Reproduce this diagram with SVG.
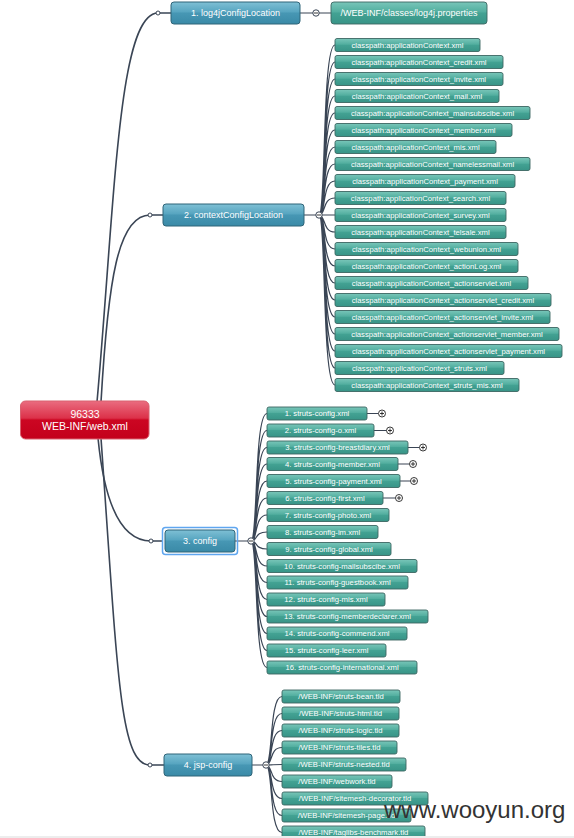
<svg xmlns="http://www.w3.org/2000/svg" width="574" height="838" viewBox="0 0 574 838">
<defs>
<linearGradient id="gRoot" x1="0" y1="0" x2="0" y2="1">
<stop offset="0" stop-color="#ea6d80"/><stop offset="0.45" stop-color="#dc3149"/><stop offset="0.5" stop-color="#cc0622"/><stop offset="1" stop-color="#c3001b"/>
</linearGradient>
<linearGradient id="gL1" x1="0" y1="0" x2="0" y2="1">
<stop offset="0" stop-color="#7fc0d5"/><stop offset="0.45" stop-color="#57a5c0"/><stop offset="0.5" stop-color="#4797b4"/><stop offset="1" stop-color="#3a8aa7"/>
</linearGradient>
<linearGradient id="gCh" x1="0" y1="0" x2="0" y2="1">
<stop offset="0" stop-color="#79c6b9"/><stop offset="0.45" stop-color="#52ae9f"/><stop offset="0.5" stop-color="#43a293"/><stop offset="1" stop-color="#389487"/>
</linearGradient>
</defs>
<style>
.root{fill:url(#gRoot);stroke:#d9606f;stroke-width:1}
.l1{fill:url(#gL1);stroke:#2f6478;stroke-width:1}
.ch{fill:url(#gCh);stroke:#3c6662;stroke-width:0.9}
.t{font-family:"Liberation Sans",Arial,sans-serif;fill:#ffffff;text-anchor:middle}
.t1{font-size:9px}
.t2{font-size:7.7px}
.tr{font-size:10.5px}
.c{fill:none;stroke:#3a4555;stroke-width:1.2}
.cm{fill:none;stroke:#3a4555;stroke-width:1.6}
.hub{fill:#ffffff;stroke:#3a4555;stroke-width:1}
.sym{stroke:#222;stroke-width:0.9}
.plus{fill:#ffffff;stroke:#222;stroke-width:0.9}
</style>
<rect width="574" height="838" fill="#ffffff"/>
<g id="connectors">
<path class="cm" d="M97,402 C115,200 118,13 158,13"/>
<path class="cm" d="M101,402 C108,280 118,215 150,215"/>
<path class="cm" d="M98,438 C104,500 120,541 151,541"/>
<path class="cm" d="M101,438 C118,680 120,765 150,765"/>
<path class="cm" d="M158,13 H171 M150,215 H163 M151,541 H163 M150,765 H164"/>
<path class="c" d="M300,13 H331 M304,215 H319 M235,541 H251 M252,765 H266"/>
<path class="c" d="M319,215 C326,215 322,45 335,45 M319,215 C326,215 322,62 335,62 M319,215 C326,215 322,79 335,79 M319,215 C326,215 322,96 335,96 M319,215 C326,215 322,113 335,113 M319,215 C326,215 322,130 335,130 M319,215 C326,215 322,147 335,147 M319,215 C326,215 322,164 335,164 M319,215 C326,215 322,181 335,181 M319,215 C326,215 322,198 335,198 M319,215 H335 M319,215 C326,215 322,232 335,232 M319,215 C326,215 322,249 335,249 M319,215 C326,215 322,266 335,266 M319,215 C326,215 322,283 335,283 M319,215 C326,215 322,300 335,300 M319,215 C326,215 322,317 335,317 M319,215 C326,215 322,334 335,334 M319,215 C326,215 322,351 335,351 M319,215 C326,215 322,368 335,368 M319,215 C326,215 322,385 335,385"/>
<path class="c" d="M251,541 C258,541 254,413.5 267,413.5 M251,541 C258,541 254,430.5 267,430.5 M251,541 C258,541 254,447.5 267,447.5 M251,541 C258,541 254,464 267,464 M251,541 C258,541 254,481 267,481 M251,541 C258,541 254,498 267,498 M251,541 C258,541 254,515 267,515 M251,541 C258,541 254,532 267,532 M251,541 C258,541 254,549 267,549 M251,541 C258,541 254,566 267,566 M251,541 C258,541 254,582.5 267,582.5 M251,541 C258,541 254,599.5 267,599.5 M251,541 C258,541 254,616.5 267,616.5 M251,541 C258,541 254,633.5 267,633.5 M251,541 C258,541 254,650.5 267,650.5 M251,541 C258,541 254,667.5 267,667.5"/>
<path class="c" d="M266,765 C273,765 269,696.5 282,696.5 M266,765 C273,765 269,713.5 282,713.5 M266,765 C273,765 269,730.5 282,730.5 M266,765 C273,765 269,747.5 282,747.5 M266,765 C273,765 269,764.5 282,764.5 M266,765 C273,765 269,781.5 282,781.5 M266,765 C273,765 269,798.5 282,798.5 M266,765 C273,765 269,815.5 282,815.5 M266,765 C273,765 269,832.5 282,832.5"/>
<path class="c" d="M367,413.5 H378.5 M374,430.5 H386.5 M408,447.5 H419.5 M398,464 H409.5 M400,481 H410.5 M383,498 H395.5"/>
<circle class="hub" cx="158" cy="13" r="2"/>
<circle class="hub" cx="150" cy="215" r="2"/>
<circle class="hub" cx="151" cy="541" r="2"/>
<circle class="hub" cx="150" cy="765" r="2"/>
<circle class="hub" cx="316" cy="13" r="3.2"/><path class="sym" d="M314,13 H318"/>
<circle class="hub" cx="319" cy="215" r="3.2"/><path class="sym" d="M317,215 H321"/>
<circle class="hub" cx="251" cy="541" r="3.2"/><path class="sym" d="M249,541 H253"/>
<circle class="hub" cx="266" cy="765" r="3.2"/><path class="sym" d="M264,765 H268"/>
<circle class="plus" cx="382" cy="413.5" r="3.5"/><path class="sym" d="M380,413.5 H384 M382,411.5 V415.5"/>
<circle class="plus" cx="390" cy="430.5" r="3.5"/><path class="sym" d="M388,430.5 H392 M390,428.5 V432.5"/>
<circle class="plus" cx="423" cy="447.5" r="3.5"/><path class="sym" d="M421,447.5 H425 M423,445.5 V449.5"/>
<circle class="plus" cx="413" cy="464" r="3.5"/><path class="sym" d="M411,464 H415 M413,462 V466"/>
<circle class="plus" cx="414" cy="481" r="3.5"/><path class="sym" d="M412,481 H416 M414,479 V483"/>
<circle class="plus" cx="399" cy="498" r="3.5"/><path class="sym" d="M397,498 H401 M399,496 V500"/>
</g>
<g id="root"><rect class="root" x="20.5" y="401" width="128.5" height="38" rx="5"/>
<text class="t tr" x="85" y="418">96333</text><text class="t tr" x="85" y="429.5">WEB-INF/web.xml</text></g>
<g id="n1"><rect class="l1" x="171" y="2" width="129" height="22" rx="3"/><text class="t t1" x="235.5" y="16.2">1. log4jConfigLocation</text></g>
<g id="n1-1"><rect class="ch" x="331" y="2" width="156" height="22" rx="3"/><text class="t t1" x="409" y="16.2">/WEB-INF/classes/log4j.properties</text></g>
<g id="n2"><rect class="l1" x="163" y="204" width="141" height="22" rx="3"/><text class="t t1" x="233.5" y="218.2">2. contextConfigLocation</text></g>
<g id="n3"><rect x="162.5" y="527.5" width="75" height="27" rx="3" fill="none" stroke="#5fa6f0" stroke-width="1.5"/><rect class="l1" x="165" y="530" width="70" height="22" rx="3"/><text class="t t1" x="200" y="544.2">3. config</text></g>
<g id="n4"><rect class="l1" x="164" y="754" width="88" height="22" rx="3"/><text class="t t1" x="208" y="768.2">4. jsp-config</text></g>
<g id="cp0"><rect class="ch" x="335" y="38.5" width="145" height="13" rx="2"/><text class="t t2" x="407.5" y="47.8">classpath:applicationContext.xml</text></g>
<g id="cp1"><rect class="ch" x="335" y="55.5" width="168" height="13" rx="2"/><text class="t t2" x="419" y="64.8">classpath:applicationContext_credit.xml</text></g>
<g id="cp2"><rect class="ch" x="335" y="72.5" width="168" height="13" rx="2"/><text class="t t2" x="419" y="81.8">classpath:applicationContext_invite.xml</text></g>
<g id="cp3"><rect class="ch" x="335" y="89.5" width="164" height="13" rx="2"/><text class="t t2" x="417" y="98.8">classpath:applicationContext_mail.xml</text></g>
<g id="cp4"><rect class="ch" x="335" y="106.5" width="195" height="13" rx="2"/><text class="t t2" x="432.5" y="115.8">classpath:applicationContext_mainsubscibe.xml</text></g>
<g id="cp5"><rect class="ch" x="335" y="123.5" width="177" height="13" rx="2"/><text class="t t2" x="423.5" y="132.8">classpath:applicationContext_member.xml</text></g>
<g id="cp6"><rect class="ch" x="335" y="140.5" width="161" height="13" rx="2"/><text class="t t2" x="415.5" y="149.8">classpath:applicationContext_mis.xml</text></g>
<g id="cp7"><rect class="ch" x="335" y="157.5" width="195" height="13" rx="2"/><text class="t t2" x="432.5" y="166.8">classpath:applicationContext_namelessmail.xml</text></g>
<g id="cp8"><rect class="ch" x="335" y="174.5" width="180" height="13" rx="2"/><text class="t t2" x="425" y="183.8">classpath:applicationContext_payment.xml</text></g>
<g id="cp9"><rect class="ch" x="335" y="191.5" width="171" height="13" rx="2"/><text class="t t2" x="420.5" y="200.8">classpath:applicationContext_search.xml</text></g>
<g id="cp10"><rect class="ch" x="335" y="208.5" width="171" height="13" rx="2"/><text class="t t2" x="420.5" y="217.8">classpath:applicationContext_survey.xml</text></g>
<g id="cp11"><rect class="ch" x="335" y="225.5" width="171" height="13" rx="2"/><text class="t t2" x="420.5" y="234.8">classpath:applicationContext_telsale.xml</text></g>
<g id="cp12"><rect class="ch" x="335" y="242.5" width="183" height="13" rx="2"/><text class="t t2" x="426.5" y="251.8">classpath:applicationContext_webunion.xml</text></g>
<g id="cp13"><rect class="ch" x="335" y="259.5" width="183" height="13" rx="2"/><text class="t t2" x="426.5" y="268.8">classpath:applicationContext_actionLog.xml</text></g>
<g id="cp14"><rect class="ch" x="335" y="276.5" width="193" height="13" rx="2"/><text class="t t2" x="431.5" y="285.8">classpath:applicationContext_actionservlet.xml</text></g>
<g id="cp15"><rect class="ch" x="335" y="293.5" width="216" height="13" rx="2"/><text class="t t2" x="443" y="302.8">classpath:applicationContext_actionservlet_credit.xml</text></g>
<g id="cp16"><rect class="ch" x="335" y="310.5" width="215" height="13" rx="2"/><text class="t t2" x="442.5" y="319.8">classpath:applicationContext_actionservlet_invite.xml</text></g>
<g id="cp17"><rect class="ch" x="335" y="327.5" width="224" height="13" rx="2"/><text class="t t2" x="447" y="336.8">classpath:applicationContext_actionservlet_member.xml</text></g>
<g id="cp18"><rect class="ch" x="335" y="344.5" width="227" height="13" rx="2"/><text class="t t2" x="448.5" y="353.8">classpath:applicationContext_actionservlet_payment.xml</text></g>
<g id="cp19"><rect class="ch" x="335" y="361.5" width="169" height="13" rx="2"/><text class="t t2" x="419.5" y="370.8">classpath:applicationContext_struts.xml</text></g>
<g id="cp20"><rect class="ch" x="335" y="378.5" width="184" height="13" rx="2"/><text class="t t2" x="427" y="387.8">classpath:applicationContext_struts_mis.xml</text></g>
<g id="s1"><rect class="ch" x="267" y="407" width="100" height="13" rx="2"/><text class="t t2" x="317" y="416.3">1. struts-config.xml</text></g>
<g id="s2"><rect class="ch" x="267" y="424" width="107" height="13" rx="2"/><text class="t t2" x="320.5" y="433.3">2. struts-config-o.xml</text></g>
<g id="s3"><rect class="ch" x="267" y="441" width="141" height="13" rx="2"/><text class="t t2" x="337.5" y="450.3">3. struts-config-breastdiary.xml</text></g>
<g id="s4"><rect class="ch" x="267" y="457.5" width="131" height="13" rx="2"/><text class="t t2" x="332.5" y="466.8">4. struts-config-member.xml</text></g>
<g id="s5"><rect class="ch" x="267" y="474.5" width="133" height="13" rx="2"/><text class="t t2" x="333.5" y="483.8">5. struts-config-payment.xml</text></g>
<g id="s6"><rect class="ch" x="267" y="491.5" width="116" height="13" rx="2"/><text class="t t2" x="325" y="500.8">6. struts-config-first.xml</text></g>
<g id="s7"><rect class="ch" x="267" y="508.5" width="122" height="13" rx="2"/><text class="t t2" x="328" y="517.8">7. struts-config-photo.xml</text></g>
<g id="s8"><rect class="ch" x="267" y="525.5" width="111" height="13" rx="2"/><text class="t t2" x="322.5" y="534.8">8. struts-config-im.xml</text></g>
<g id="s9"><rect class="ch" x="267" y="542.5" width="124" height="13" rx="2"/><text class="t t2" x="329" y="551.8">9. struts-config-global.xml</text></g>
<g id="s10"><rect class="ch" x="267" y="559.5" width="150" height="13" rx="2"/><text class="t t2" x="342" y="568.8">10. struts-config-mailsubscibe.xml</text></g>
<g id="s11"><rect class="ch" x="267" y="576" width="141" height="13" rx="2"/><text class="t t2" x="337.5" y="585.3">11. struts-config-guestbook.xml</text></g>
<g id="s12"><rect class="ch" x="267" y="593" width="118" height="13" rx="2"/><text class="t t2" x="326" y="602.3">12. struts-config-mis.xml</text></g>
<g id="s13"><rect class="ch" x="267" y="610" width="161" height="13" rx="2"/><text class="t t2" x="347.5" y="619.3">13. struts-config-memberdeclarer.xml</text></g>
<g id="s14"><rect class="ch" x="267" y="627" width="140" height="13" rx="2"/><text class="t t2" x="337" y="636.3">14. struts-config-commend.xml</text></g>
<g id="s15"><rect class="ch" x="267" y="644" width="119" height="13" rx="2"/><text class="t t2" x="326.5" y="653.3">15. struts-config-leer.xml</text></g>
<g id="s16"><rect class="ch" x="267" y="661" width="150" height="13" rx="2"/><text class="t t2" x="342" y="670.3">16. struts-config-international.xml</text></g>
<g id="j1"><rect class="ch" x="282" y="690" width="118" height="13" rx="2"/><text class="t t2" x="341" y="699.3">/WEB-INF/struts-bean.tld</text></g>
<g id="j2"><rect class="ch" x="282" y="707" width="117" height="13" rx="2"/><text class="t t2" x="340.5" y="716.3">/WEB-INF/struts-html.tld</text></g>
<g id="j3"><rect class="ch" x="282" y="724" width="117" height="13" rx="2"/><text class="t t2" x="340.5" y="733.3">/WEB-INF/struts-logic.tld</text></g>
<g id="j4"><rect class="ch" x="282" y="741" width="115" height="13" rx="2"/><text class="t t2" x="339.5" y="750.3">/WEB-INF/struts-tiles.tld</text></g>
<g id="j5"><rect class="ch" x="282" y="758" width="124" height="13" rx="2"/><text class="t t2" x="344" y="767.3">/WEB-INF/struts-nested.tld</text></g>
<g id="j6"><rect class="ch" x="282" y="775" width="110" height="13" rx="2"/><text class="t t2" x="337" y="784.3">/WEB-INF/webwork.tld</text></g>
<g id="j7"><rect class="ch" x="282" y="792" width="146" height="13" rx="2"/><text class="t t2" x="355" y="801.3">/WEB-INF/sitemesh-decorator.tld</text></g>
<g id="j8"><rect class="ch" x="282" y="809" width="129" height="13" rx="2"/><text class="t t2" x="346.5" y="818.3">/WEB-INF/sitemesh-page.tld</text></g>
<g id="j9"><rect class="ch" x="282" y="826" width="143" height="13" rx="2"/><text class="t t2" x="353.5" y="835.3">/WEB-INF/taglibs-benchmark.tld</text></g>
<rect x="0" y="836" width="574" height="2" fill="#ededed"/>
<text x="384" y="818" font-family="'Liberation Sans',Arial,sans-serif" font-size="24" fill="#333333">www.wooyun.org</text>
</svg>
